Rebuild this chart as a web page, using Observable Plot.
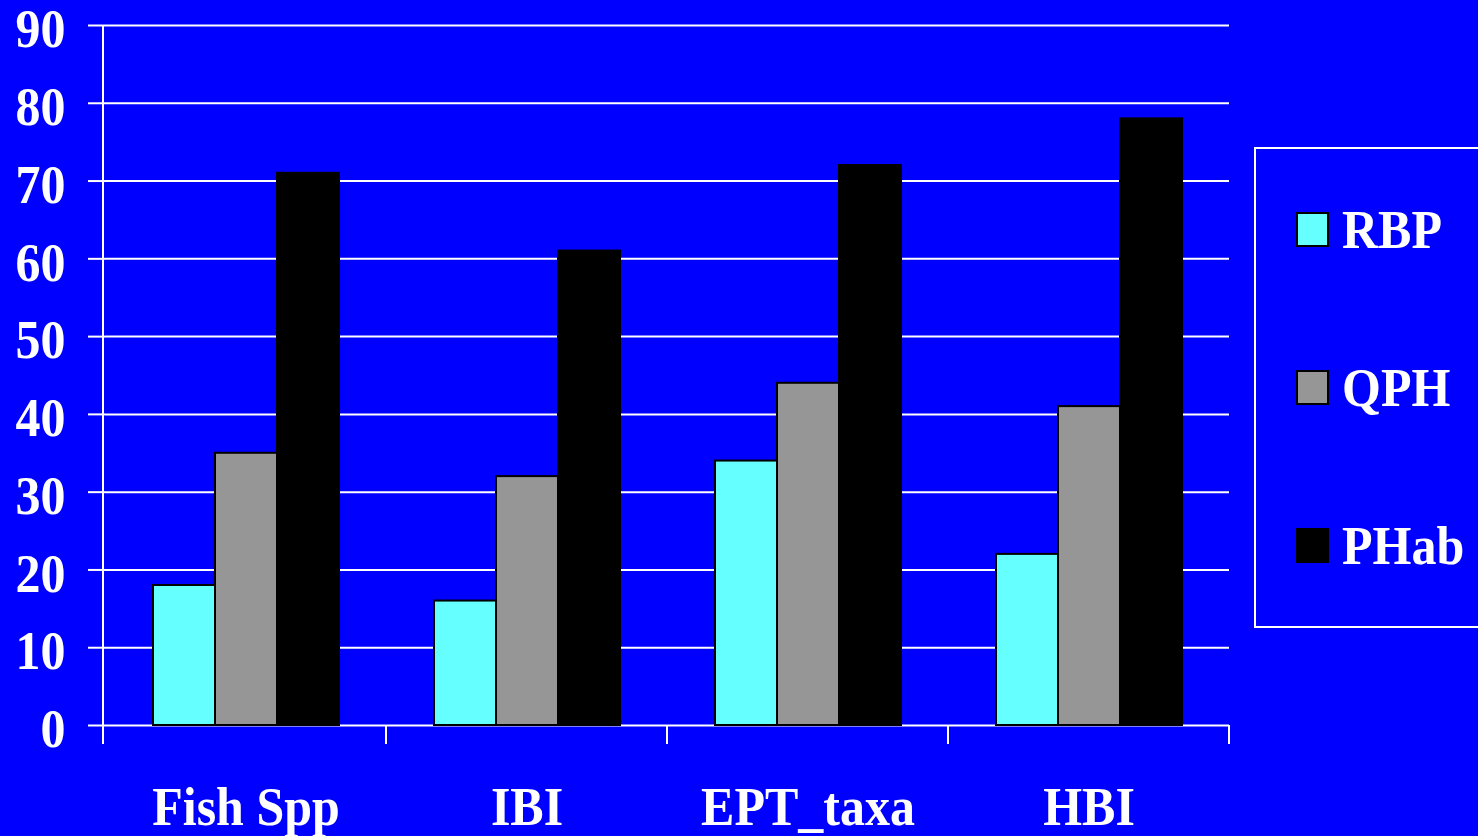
<!DOCTYPE html>
<html>
<head>
<meta charset="utf-8">
<script src="https://cdn.jsdelivr.net/npm/d3@7"></script>
<script src="https://cdn.jsdelivr.net/npm/@observablehq/plot@0.6"></script>
<style>
  html, body { margin: 0; padding: 0; background: #0000FF; overflow: hidden; }
  #wrap { position: relative; width: 1478px; height: 836px; }
  #legend {
    position: absolute; left: 1254px; top: 147px; width: 240px; height: 477px;
    border: 2px solid white; box-sizing: content-box;
    font-family: "Liberation Serif", "Times New Roman", serif; font-weight: bold;
    color: white; font-size: 50px;
  }
  .item { position: absolute; left: 40px; display: flex; align-items: center; height: 60px; }
  .sw { width: 29px; height: 31px; border: 2px solid black; margin-right: 13px; }
  .item span { display: inline-block; transform: scaleY(1.1); }
</style>
</head>
<body>
<div id="wrap"></div>
<script>
const categories = ["Fish Spp", "IBI", "EPT_taxa", "HBI"];
const seriesNames = ["RBP", "QPH", "PHab"];
const rbp = [18, 16, 34, 22];
const qph = [35, 32, 44, 41];
const phab = [71, 61, 72, 78];
const seriesColors = ["#66FFFF", "#969696", "#000000"];
const yTicks = [0, 10, 20, 30, 40, 50, 60, 70, 80, 90];

const seriesValues = [rbp, qph, phab];
const data = [];
categories.forEach((c, i) => {
  seriesNames.forEach((s, j) => {
    data.push({category: c, series: s, value: seriesValues[j][i]});
  });
});

const font = "'Liberation Serif', 'Times New Roman', serif";

const chart = Plot.plot({
  width: 1478,
  height: 836,
  marginLeft: 103,
  marginRight: 248,
  marginTop: 25,
  marginBottom: 111,
  style: {background: "#0000FF", color: "white", fontFamily: font, fontWeight: "bold", fontSize: "50px", overflow: "visible"},
  fx: {domain: categories, padding: 0, label: null, axis: null},
  x: {domain: seriesNames, axis: null, paddingInner: 0, paddingOuter: 0.735},
  y: {domain: [0, 90], axis: null},
  color: {domain: seriesNames, range: seriesColors},
  marks: [
    Plot.gridY(yTicks, {stroke: "white", strokeOpacity: 1, strokeWidth: 2}),
    Plot.barY(data, {fx: "category", x: "series", y: "value", fill: "series", stroke: "black", strokeWidth: 2}),
    Plot.axisY(yTicks, {anchor: "left", tickSize: 17, stroke: "white", strokeWidth: 2, tickFormat: () => "", label: null}),
    Plot.axisY(yTicks, {anchor: "left", tickSize: 0, tickPadding: 40, fill: "white", fontSize: 50, fontWeight: "bold", label: null, dy: 4}),
    Plot.axisFx({anchor: "bottom", tickSize: 0, tickPadding: 62, fill: "white", fontSize: 50, fontWeight: "bold", label: null})
  ]
});

document.getElementById("wrap").appendChild(chart);

// Slight vertical stretch of the tall Times-like lettering, about each text's own centre
d3.select(chart).selectAll("text").each(function() {
  const b = this.getBBox();
  const cx = b.x + b.width / 2;
  const cy = b.y + b.height / 2;
  const t = this.getAttribute("transform") || "";
  this.setAttribute("transform", `${t} translate(${cx},${cy}) scale(1,1.1) translate(${-cx},${-cy})`);
});

// Axis line and category-boundary ticks drawn from the library's scales
const fx = chart.scale("fx");
const ys = chart.scale("y");
const svg = d3.select(chart);
const y0 = ys.apply(0);
const yTop = ys.apply(90);
const tickLen = 19;
const g = svg.append("g").attr("stroke", "white").attr("stroke-width", 2);
g.append("line").attr("x1", fx.range[0]).attr("x2", fx.range[0]).attr("y1", yTop).attr("y2", y0 + tickLen);
categories.forEach(c => {
  const xr = fx.apply(c) + fx.bandwidth;
  g.append("line").attr("x1", xr).attr("x2", xr).attr("y1", y0).attr("y2", y0 + tickLen);
});

// Legend
const legend = document.createElement("div");
legend.id = "legend";
const tops = [50, 208, 366];
seriesNames.forEach((s, j) => {
  const it = document.createElement("div");
  it.className = "item";
  it.style.top = tops[j] + "px";
  const sw = document.createElement("div");
  sw.className = "sw";
  sw.style.background = seriesColors[j];
  const t = document.createElement("span");
  t.textContent = s;
  it.appendChild(sw);
  it.appendChild(t);
  legend.appendChild(it);
});
document.getElementById("wrap").appendChild(legend);
</script>
</body>
</html>
